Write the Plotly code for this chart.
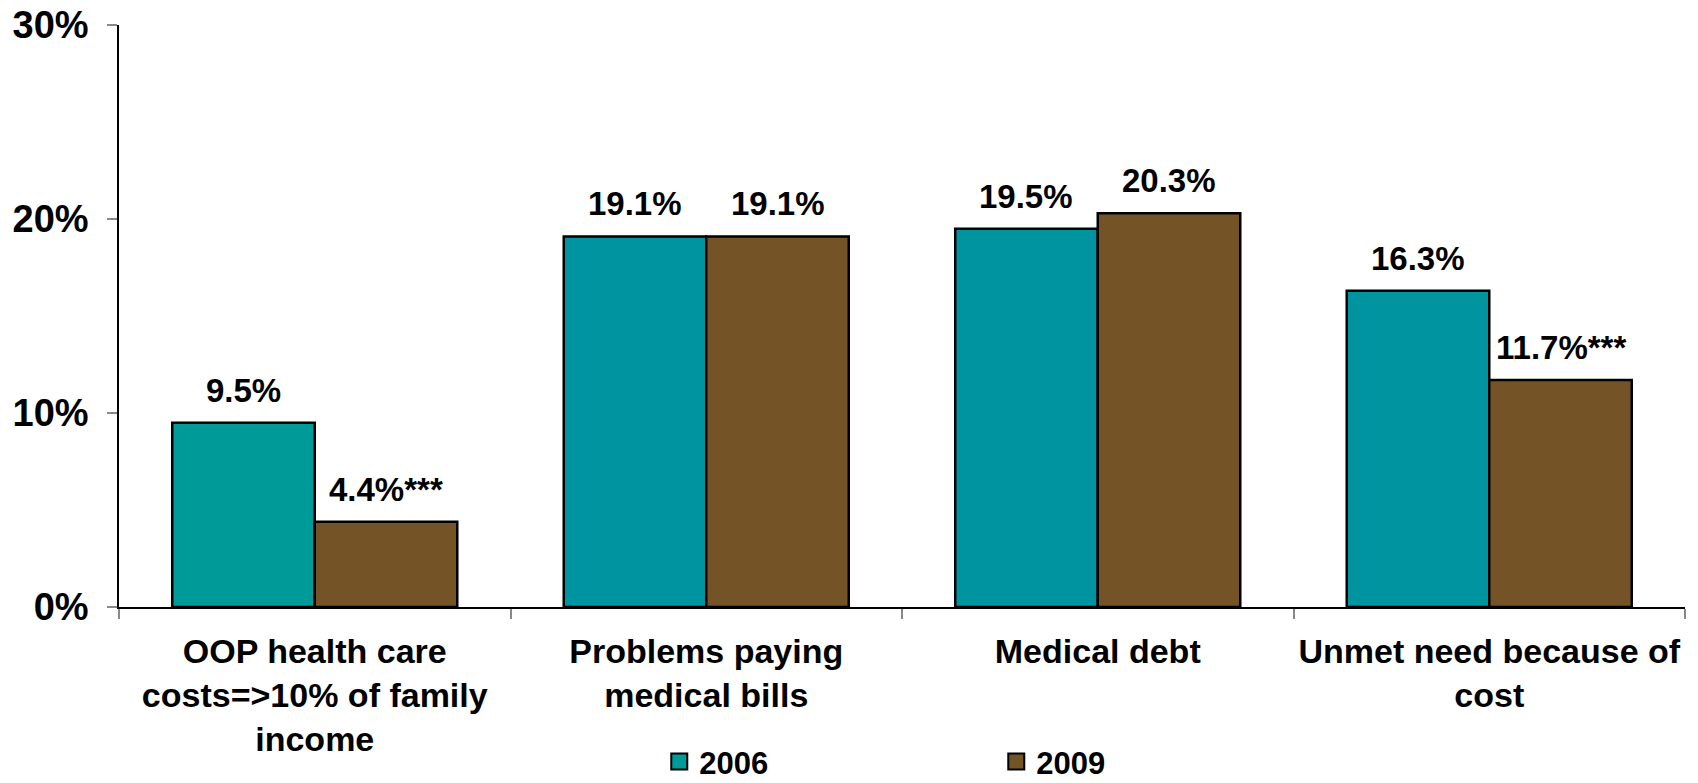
import plotly.graph_objects as go

categories = [
    "OOP health care<br>costs=>10% of family<br>income",
    "Problems paying<br>medical bills",
    "Medical debt",
    "Unmet need because of<br>cost",
]
series_names = ["2006", "2009"]
values_2006 = [9.5, 19.1, 19.5, 16.3]
values_2009 = [4.4, 19.1, 20.3, 11.7]
labels_2006 = ["9.5%", "19.1%", "19.5%", "16.3%"]
labels_2009 = ["4.4%***", "19.1%", "20.3%", "11.7%***"]
colors_2006 = ["#009B98", "#0093A0", "#0093A0", "#0093A0"]
legend_color_2006 = "#009B98"
color_2009 = "#745426"
y_ticks = [0, 10, 20, 30]
y_tick_labels = ["0%", "10%", "20%", "30%"]

FONT = "Liberation Sans, Arial, sans-serif"

fig = go.Figure()
fig.add_trace(go.Bar(
    name=series_names[0], x=categories, y=values_2006, showlegend=False,
    marker=dict(color=colors_2006, line=dict(color="black", width=2.5)),
))
fig.add_trace(go.Bar(
    name=series_names[1], x=categories, y=values_2009, showlegend=False,
    marker=dict(color=color_2009, line=dict(color="black", width=2.5)),
))
# legend entries with larger square swatches
for name, col in ((series_names[0], legend_color_2006), (series_names[1], color_2009)):
    fig.add_trace(go.Scatter(
        name=name, x=[None], y=[None], mode="markers",
        marker=dict(symbol="square", size=16, color=col, line=dict(color="black", width=2)),
    ))

W, H = 1698, 783
ml, mr, mt, mb = 119, W - 1685, 25, H - 607
cat_px = (W - ml - mr) / len(categories)
bargap = 0.272
bar_px = cat_px * (1 - bargap) / 2

for i, c in enumerate(categories):
    for lab, val, sh in ((labels_2006[i], values_2006[i], -bar_px / 2),
                         (labels_2009[i], values_2009[i], bar_px / 2)):
        fig.add_annotation(
            x=c, y=val, xref="x", yref="y", text=lab, showarrow=False,
            xshift=sh, yshift=12, yanchor="bottom", xanchor="center",
            font=dict(family=FONT, size=33, color="black", weight="bold"),
        )

fig.update_layout(
    width=W, height=H,
    margin=dict(l=ml, r=mr, t=mt, b=mb, pad=0, autoexpand=False),
    paper_bgcolor="white", plot_bgcolor="white",
    barmode="group", bargap=bargap, bargroupgap=0,
    showlegend=True,
    legend=dict(
        orientation="h", x=0.345, xanchor="left", y=-0.266, yanchor="middle",
        entrywidth=292, entrywidthmode="pixels",
        font=dict(family=FONT, size=31, color="black", weight="bold"),
        bgcolor="rgba(0,0,0,0)",
    ),
    font=dict(family=FONT, color="black"),
)
fig.update_xaxes(
    showline=True, linecolor="black", linewidth=1.5, automargin=False, tickangle=0,
    ticks="outside", tickson="boundaries", ticklen=10, tickcolor="#888888", tickwidth=1.5,
    tickfont=dict(family=FONT, size=34, color="black", weight="bold"),
    showgrid=False, zeroline=False, ticklabelstandoff=13,
)
fig.update_yaxes(
    range=[0, 30], tickvals=y_ticks, ticktext=y_tick_labels, automargin=False,
    showline=True, linecolor="black", linewidth=1.5,
    ticks="outside", ticklen=10, tickcolor="#888888", tickwidth=1.5,
    tickfont=dict(family=FONT, size=38, color="black", weight="bold"),
    showgrid=False, zeroline=False, ticklabelstandoff=11,
)

fig.write_html("out.html")
